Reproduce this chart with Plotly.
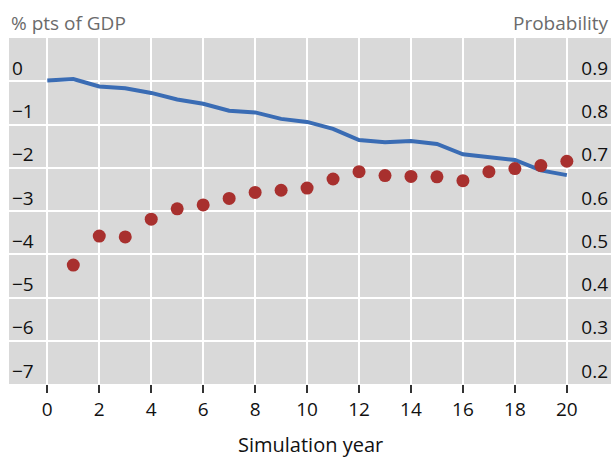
import plotly.graph_objects as go

years = list(range(0, 21))
budget_gap = [0.02, 0.05, -0.12, -0.16, -0.27, -0.42, -0.52, -0.68, -0.72, -0.87, -0.94,
              -1.10, -1.36, -1.41, -1.38, -1.45, -1.69, -1.75, -1.82, -2.06, -2.17]
prob_years = list(range(1, 21))
probability = [0.475, 0.542, 0.540, 0.581, 0.605, 0.614, 0.629, 0.643, 0.648, 0.653,
               0.674, 0.691, 0.682, 0.680, 0.679, 0.670, 0.691, 0.698, 0.705, 0.715]

left_ticks = [0, -1, -2, -3, -4, -5, -6, -7]
left_text = ["0", "−1", "−2", "−3", "−4", "−5", "−6", "−7"]
right_ticks = [0.9, 0.8, 0.7, 0.6, 0.5, 0.4, 0.3, 0.2]
right_text = ["0.9", "0.8", "0.7", "0.6", "0.5", "0.4", "0.3", "0.2"]
x_ticks = list(range(0, 21, 2))

FONT = "Open Sans"
TXT = "#111111"
GREY = "#6b6b6b"
fig = go.Figure()
fig.add_trace(go.Scatter(x=years, y=budget_gap, mode="lines",
                         line=dict(color="#3A6CB4", width=4), yaxis="y", showlegend=False))
fig.add_trace(go.Scatter(x=prob_years, y=probability, mode="markers",
                         marker=dict(color="#A8302E", size=13), yaxis="y2", showlegend=False))

fig.update_layout(
    width=612, height=459,
    margin=dict(l=9, r=1, t=38, b=75, autoexpand=False),
    paper_bgcolor="white", plot_bgcolor="#D9D9D9",
    font=dict(family=FONT, size=19, color=TXT),
    xaxis=dict(range=[-1.475, 21.70], tickvals=x_ticks, showgrid=True, gridcolor="white",
               gridwidth=2, zeroline=False, ticks="outside", ticklen=8, tickwidth=1.5,
               tickcolor="#333333", showline=False, tickfont=dict(size=19, color=TXT),
               automargin=False),
    yaxis=dict(range=[-7, 1], tickvals=left_ticks, ticktext=left_text, showgrid=True,
               gridcolor="white", gridwidth=2, zeroline=False, ticklabelposition="inside",
               ticklabelshift=-13, tickfont=dict(size=19, color=TXT), ticks="",
               automargin=False),
    yaxis2=dict(range=[0.2, 1.0], tickvals=right_ticks, ticktext=right_text, overlaying="y",
                side="right", showgrid=False, zeroline=False, ticklabelposition="inside",
                ticklabelshift=-13, tickfont=dict(size=19, color=TXT), ticks="",
                automargin=False),
    annotations=[
        dict(text="% pts of GDP", xref="paper", yref="paper", x=0, y=1, xanchor="left",
             yanchor="bottom", yshift=0, xshift=0, showarrow=False,
             font=dict(size=19, color=GREY)),
        dict(text="Probability", xref="paper", yref="paper", x=1, y=1, xanchor="right",
             yanchor="bottom", yshift=0, xshift=0, showarrow=False,
             font=dict(size=19, color=GREY)),
        dict(text="Simulation year", xref="paper", yref="paper", x=0.5, y=0,
             xanchor="center", yanchor="middle", yshift=-60, showarrow=False,
             font=dict(size=20, color=TXT)),
    ],
)
fig.write_html("out.html", config={"displayModeBar": False},
               post_script="document.body.style.margin='0';document.body.style.overflow='hidden';")
